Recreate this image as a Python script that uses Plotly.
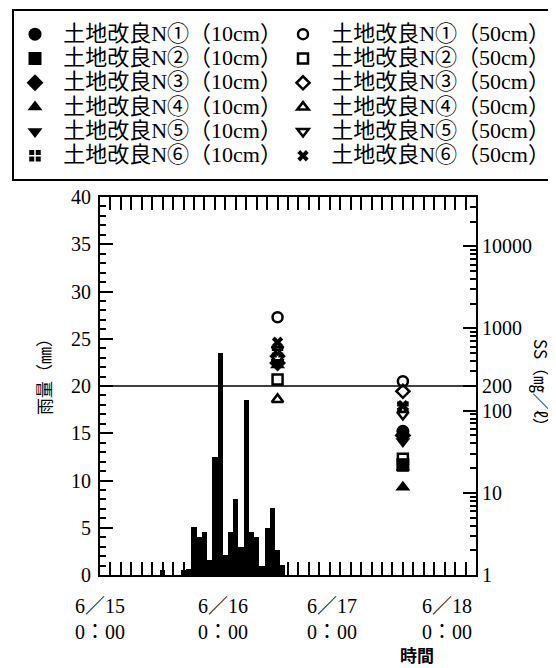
import plotly.graph_objects as go

# ---------------- data ----------------
rain_time = ["2000-06-15 12:00", "2000-06-15 16:00", "2000-06-15 17:00",
             "2000-06-15 18:00", "2000-06-15 19:00", "2000-06-15 20:00",
             "2000-06-15 21:00", "2000-06-15 22:00", "2000-06-15 23:00",
             "2000-06-16 00:00", "2000-06-16 01:00", "2000-06-16 02:00",
             "2000-06-16 03:00", "2000-06-16 04:00", "2000-06-16 05:00",
             "2000-06-16 06:00", "2000-06-16 07:00", "2000-06-16 08:00",
             "2000-06-16 09:00", "2000-06-16 10:00", "2000-06-16 11:00"]
rain_mm = [0.5, 0.5, 0.6, 5.1, 4.0, 4.6, 1.6, 12.5, 23.5, 2.1, 4.6, 8.0,
           3.0, 18.5, 4.6, 4.0, 0.95, 5.0, 7.05, 2.6, 1.05]

sample_time = ["2000-06-16 10:00", "2000-06-17 10:00"]

names_10 = ["土地改良N①（10cm）", "土地改良N②（10cm）", "土地改良N③（10cm）",
            "土地改良N④（10cm）", "土地改良N⑤（10cm）", "土地改良N⑥（10cm）"]
names_50 = ["土地改良N①（50cm）", "土地改良N②（50cm）", "土地改良N③（50cm）",
            "土地改良N④（50cm）", "土地改良N⑤（50cm）", "土地改良N⑥（50cm）"]

ss_10 = [[420, 56], [480, 22], [380, 50], [360, 11.7], [400, 42], [520, 110]]
ss_50 = [[1370, 228], [240, 26], [460, 172], [137, 20], [560, 90], [680, 115]]

sym_10 = ["circle", "square", "diamond", "triangle-up", "triangle-down", "square-cross"]
sym_50 = ["circle-open", "square-open", "diamond-open", "triangle-up-open",
          "triangle-down-open", "x"]

ss_limit = 200

x_range = ["2000-06-15 00:00", "2000-06-18 00:00"]
date_labels = ["6／15<br>0：00", "6／16<br>0：00", "6／17<br>0：00", "6／18<br>0：00"]
date_label_px = [100, 223, 332, 447]

FONT = "Liberation Serif, Noto Sans CJK JP, serif"
CJK = "Noto Sans CJK JP, sans-serif"

# plot area as seen on screen (page body adds an 8px offset)
OFF = 8
L, R, T, B = 100, 476, 197, 575
W, H = R - L, B - T
FIG_W, FIG_H = 556 - OFF, 668 - OFF


def px_x(px):
    return (px - L) / W


def px_y(py):
    return (B - py) / H


def legend_label(s):
    return '\u00a0\u00a0<span style="font-size:22px">' + s + '</span>'


fig = go.Figure()

fig.add_trace(go.Bar(x=rain_time, y=rain_mm, width=3600000,
                     marker=dict(color="black", line=dict(width=0)),
                     showlegend=False, yaxis="y"))

for i in range(6):
    fig.add_trace(go.Scatter(
        x=sample_time, y=ss_10[i], mode="markers", name=legend_label(names_10[i]),
        yaxis="y2", legend="legend",
        marker=dict(symbol=sym_10[i], size=13, color="black",
                    line=dict(color="white" if sym_10[i] == "square-cross" else "black",
                              width=1.5 if sym_10[i] == "square-cross" else 0))))
for i in range(6):
    fig.add_trace(go.Scatter(
        x=sample_time, y=ss_50[i], mode="markers", name=legend_label(names_50[i]),
        yaxis="y2", legend="legend2",
        marker=dict(symbol=sym_50[i], size=10, color="black",
                    line=dict(color="black", width=2.5 if sym_50[i] != "x" else 0))))

fig.add_shape(type="line", xref="paper", x0=0, x1=1, yref="y2",
              y0=ss_limit, y1=ss_limit, line=dict(color="black", width=1.5))

minor_log = [m * 10 ** d for d in range(0, 5) for m in range(2, 10)]

legend_common = dict(orientation="v", xanchor="left", yanchor="top",
                     bgcolor="rgba(0,0,0,0)", borderwidth=0,
                     font=dict(family=FONT, size=16.4, color="black"),
                     traceorder="normal", itemsizing="trace")

fig.update_layout(
    width=FIG_W, height=FIG_H,
    margin=dict(l=L - OFF, r=FIG_W - (R - OFF), t=T - OFF, b=FIG_H - (B - OFF),
                autoexpand=False),
    paper_bgcolor="white", plot_bgcolor="white",
    font=dict(family=FONT, size=18, color="black"),
    bargap=0,
    showlegend=True,
    legend=dict(x=px_x(15), y=px_y(17), **legend_common),
    legend2=dict(x=px_x(283), y=px_y(17), **legend_common),
    xaxis=dict(type="date", range=x_range, showgrid=False, zeroline=False,
               showline=True, linecolor="black", linewidth=2, mirror="allticks",
               ticks="inside", ticklen=13, tickwidth=1.5, tickcolor="black",
               dtick=43200000, tick0="2000-06-15 00:00", showticklabels=False,
               minor=dict(ticks="inside", ticklen=6, dtick=7200000,
                          tick0="2000-06-15 00:00", tickcolor="black", showgrid=False)),
    yaxis=dict(range=[0, 40], dtick=5, showgrid=False, zeroline=False,
               showline=True, linecolor="black", linewidth=2,
               ticks="inside", ticklen=13, tickwidth=1.5, tickcolor="black",
               ticklabelstandoff=3,
               tickfont=dict(family=FONT, size=20),
               minor=dict(ticks="inside", ticklen=6, dtick=1, tickcolor="black",
                          showgrid=False)),
    yaxis2=dict(type="log", range=[0, 4.6], overlaying="y", side="right",
                showgrid=False, zeroline=False, showline=True, linecolor="black",
                linewidth=2, ticks="inside", ticklen=13, tickwidth=1.5,
                tickcolor="black", tickvals=[1, 10, 100, 200, 1000, 10000],
                ticktext=["1", "10", "100", "200", "1000", "10000"],
                tickfont=dict(family=FONT, size=20),
                minor=dict(ticks="inside", ticklen=6, tickvals=minor_log,
                           tickcolor="black", showgrid=False)),
)

# outer frame of the legend
fig.add_shape(type="rect", xref="paper", yref="paper",
              x0=px_x(13), x1=px_x(553), y0=px_y(180), y1=px_y(10),
              line=dict(color="black", width=2), fillcolor="rgba(0,0,0,0)")

for lab, px in zip(date_labels, date_label_px):
    fig.add_annotation(text=lab, xref="paper", yref="paper", x=px_x(px), y=px_y(593),
                       xanchor="center", yanchor="top", showarrow=False,
                       font=dict(family=FONT, size=20), align="center")

fig.add_annotation(text="<b>時間</b>", xref="paper", yref="paper", x=px_x(417), y=px_y(654),
                   xanchor="center", yanchor="middle", showarrow=False,
                   font=dict(family=CJK, size=17))
fig.add_annotation(text="雨量（㎜）", xref="paper", yref="paper", x=px_x(43), y=px_y(372),
                   xanchor="center", yanchor="middle", textangle=-90, showarrow=False,
                   font=dict(family=CJK, size=17))
fig.add_annotation(text="SS（㎎／ℓ）", xref="paper", yref="paper", x=px_x(542), y=px_y(387),
                   xanchor="center", yanchor="middle", textangle=90, showarrow=False,
                   font=dict(family=CJK, size=17))

fig.write_html("out.html")
